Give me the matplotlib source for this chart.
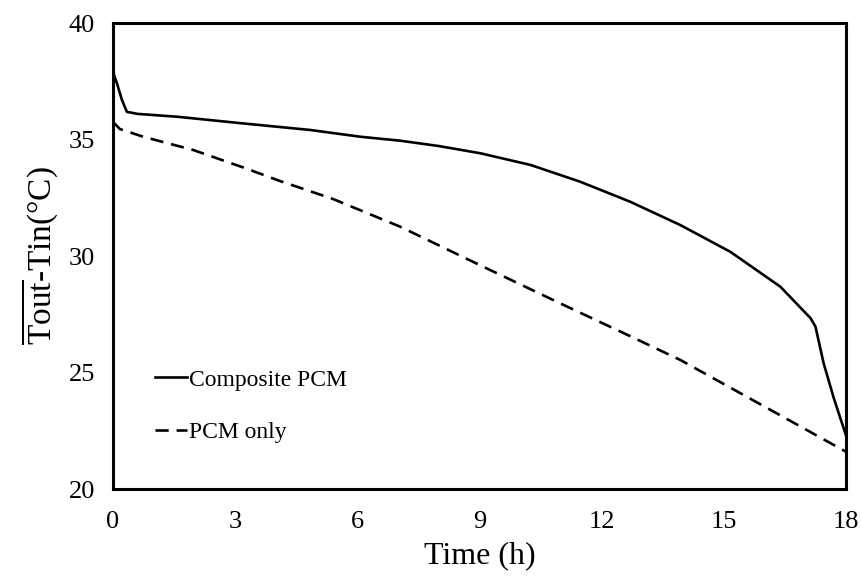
import numpy as np
import matplotlib
matplotlib.use("Agg")
import matplotlib.pyplot as plt

plt.rcParams["font.family"] = ["Liberation Serif", "DejaVu Serif"]
plt.rcParams["mathtext.fontset"] = "custom"
plt.rcParams["mathtext.rm"] = "Liberation Serif"

# temperature difference over time
t_composite = [0, 0.02, 0.1, 0.22, 0.34, 0.6, 1.56, 3.2, 4.84, 6.07, 7.05,
               8, 9.02, 10.25, 11.47, 12.7, 13.93, 15.16, 16.39, 17.13, 17.25,
               17.45, 17.7, 18]
dt_composite = [40, 37.8, 37.4, 36.7, 36.19, 36.1, 35.98, 35.69, 35.41,
                35.12, 34.95, 34.72, 34.41, 33.91, 33.19, 32.33, 31.33,
                30.18, 28.68, 27.33, 26.97, 25.4, 23.9, 22.3]

t_pcm = [0, 0.17, 0.74, 1.97, 3.2, 4.1, 5.4, 7.05, 9.02, 10.98, 12.7,
         13.93, 15.16, 18]
dt_pcm = [35.76, 35.45, 35.12, 34.55, 33.8, 33.22, 32.45, 31.26, 29.6,
          27.97, 26.56, 25.54, 24.35, 21.6]

x_ticks = [0, 3, 6, 9, 12, 15, 18]
y_ticks = [20, 25, 30, 35, 40]

fig = plt.figure(figsize=(8.61, 5.81), dpi=100)
ax = fig.add_axes([0.1312, 0.1583, 0.8514, 0.8021])

ax.plot(t_composite, dt_composite, color="black", lw=1.9,
        label="Composite PCM")
ax.plot(t_pcm, dt_pcm, color="black", lw=1.9, linestyle=(0, (5, 3)),
        label="PCM only")

ax.set_xlim(0, 18)
ax.set_ylim(20, 40)
ax.set_xticks(x_ticks)
ax.set_yticks(y_ticks)
ax.tick_params(axis="both", length=0, labelsize=19)
ax.tick_params(axis="x", pad=16)
ax.tick_params(axis="y", pad=13)
for sp in ax.spines.values():
    sp.set_linewidth(2.2)
    sp.set_color("black")

ax.set_xlabel("Time (h)", fontsize=23, labelpad=6)
ax.set_ylabel(r"$\overline{\mathrm{Tout}}$-Tin(°C)", fontsize=24, labelpad=6)

ax.legend(loc="center left", bbox_to_anchor=(0.057, 0.178), frameon=False,
          fontsize=17, handlelength=1.35, handletextpad=0.1,
          labelspacing=1.3, borderpad=0, borderaxespad=0)

fig.savefig("out.png", dpi=100)
